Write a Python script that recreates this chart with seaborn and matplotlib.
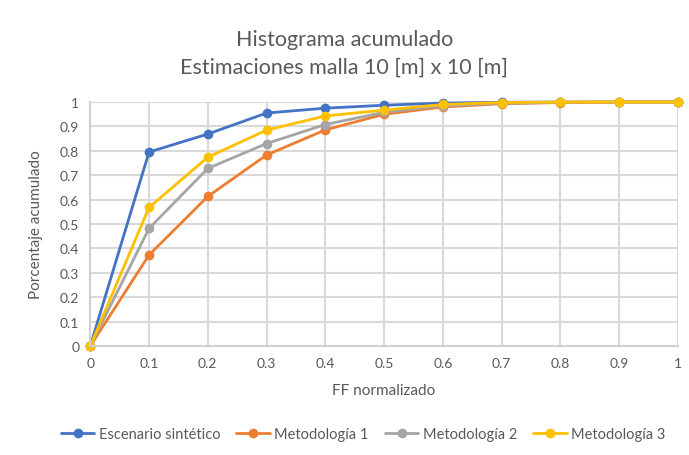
import matplotlib
matplotlib.use("Agg")
import matplotlib.pyplot as plt
import seaborn as sns
import pandas as pd

x_vals = [0, 0.1, 0.2, 0.3, 0.4, 0.5, 0.6, 0.7, 0.8, 0.9, 1.0]
escenario = [0, 0.795, 0.869, 0.955, 0.975, 0.987, 0.996, 0.999, 1.0, 1.0, 1.0]
metod1 = [0, 0.373, 0.613, 0.783, 0.886, 0.950, 0.980, 0.993, 0.998, 1.0, 1.0]
metod2 = [0, 0.482, 0.728, 0.830, 0.908, 0.958, 0.985, 0.995, 0.999, 1.0, 1.0]
metod3 = [0, 0.568, 0.774, 0.885, 0.943, 0.967, 0.990, 0.998, 1.0, 1.0, 1.0]
series_names = ["Escenario sintético", "Metodología 1", "Metodología 2", "Metodología 3"]
colors = ["#4472C4", "#ED7D31", "#A5A5A5", "#FFC000"]
y_ticks = [0, 0.1, 0.2, 0.3, 0.4, 0.5, 0.6, 0.7, 0.8, 0.9, 1]
y_labels = ["0", "0.1", "0.2", "0.3", "0.4", "0.5", "0.6", "0.7", "0.8", "0.9", "1"]

rows = []
for name, vals in zip(series_names, [escenario, metod1, metod2, metod3]):
    for xv, yv in zip(x_vals, vals):
        rows.append({"x": xv, "y": yv, "serie": name})
df = pd.DataFrame(rows)

sns.set_style("white")
plt.rcParams['font.family'] = ['Lato', 'DejaVu Sans']

fig = plt.figure(figsize=(6.89, 4.56), dpi=100)
ax = fig.add_axes([0.131, 0.239, 0.853, 0.535])

sns.lineplot(data=df, x="x", y="y", hue="serie", palette=colors, marker="o",
             markersize=7, markeredgewidth=0, linewidth=2, ax=ax, legend=True)

ax.set_xlim(0, 1)
ax.set_ylim(0, 1)
ax.set_xticks(x_vals)
ax.set_xticklabels(["0", "0.1", "0.2", "0.3", "0.4", "0.5", "0.6", "0.7", "0.8", "0.9", "1"])
ax.set_yticks(y_ticks)
ax.set_yticklabels(y_labels)
for m in ax.lines:
    m.set_clip_on(False)
ax.grid(True, color="#d9d9d9", linewidth=1.5)
ax.set_axisbelow(True)
for s in ["top", "right"]:
    ax.spines[s].set_visible(False)
for s in ["left", "bottom"]:
    ax.spines[s].set_color("#d0d0d0")
    ax.spines[s].set_linewidth(1.5)
ax.tick_params(axis="both", length=0, labelsize=10, colors="#595959", pad=8)

ax.set_xlabel("FF normalizado", fontsize=11, color="#595959", labelpad=10)
ax.set_ylabel("Porcentaje acumulado", fontsize=11, color="#595959", labelpad=12)

fig.text(0.5, 0.912, "Histograma acumulado", ha="center", va="center", fontsize=15.5, color="#595959")
fig.text(0.5, 0.852, "Estimaciones malla 10 [m] x 10 [m]", ha="center", va="center", fontsize=15.5, color="#595959")

ax.legend_.remove()
handles, labels = ax.get_legend_handles_labels()
fig.legend(handles, labels, loc="center", bbox_to_anchor=(0.527, 0.045), ncol=4, frameon=False,
           fontsize=10.5, labelcolor="#595959", handlelength=2.3, columnspacing=1.1, handletextpad=0.3)

fig.savefig("out.png", dpi=100, facecolor="white")
